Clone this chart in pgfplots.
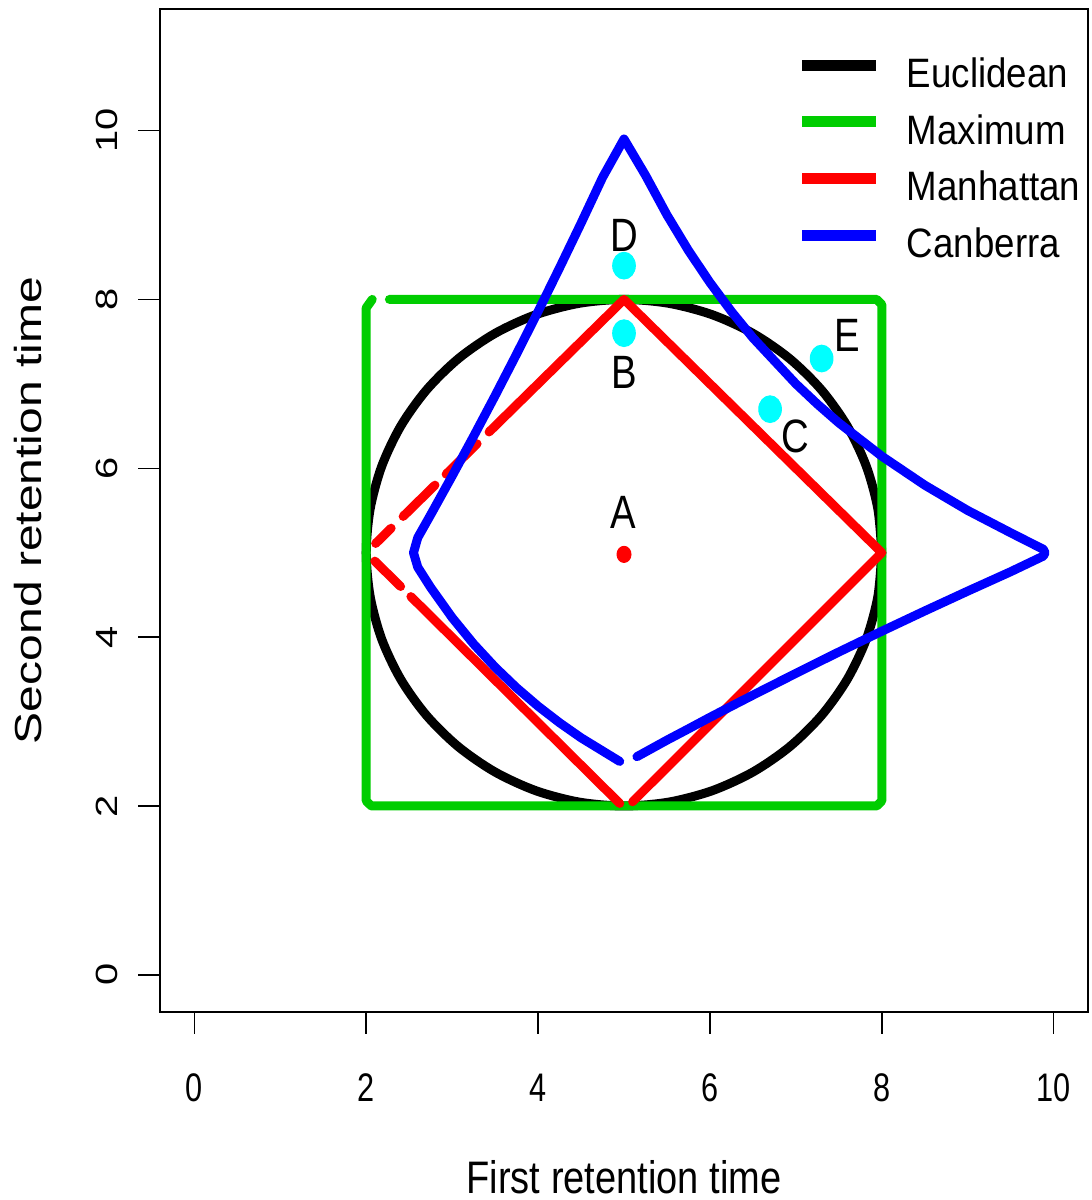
\documentclass[border=0pt]{standalone}
\usepackage{pgfplots}
\pgfplotsset{compat=1.18}
\usepackage{fontspec}
\setmainfont{Liberation Sans}
\definecolor{rgreen}{HTML}{00CD00}
\definecolor{rcyan}{HTML}{00FFFF}
\begin{document}
\begin{tikzpicture}
\begin{axis}[
  scale only axis,
  width=278.4pt, height=300.9pt,
  xmin=-0.4, xmax=10.4, ymin=-0.44, ymax=11.44,
  axis line style={line width=0.45pt},
  xtick={0,2,4,6,8,10}, ytick={0,2,4,6,8,10},
  tick align=outside, major tick length=6.5pt, tick pos=left,
  tick style={line width=0.45pt, black},
  xticklabel={\scalebox{1}[1.3]{\pgfmathprintnumber[assume math mode=true]{\tick}}},
  yticklabel={\scalebox{1.3}[1]{\pgfmathprintnumber[assume math mode=true]{\tick}}},
  xticklabel style={font=\fontsize{9.2}{11}\selectfont, anchor=center, yshift=-16.15pt},
  yticklabel style={font=\fontsize{9.2}{11}\selectfont, xshift=-9.5pt, rotate=90, anchor=center},
  xlabel={\scalebox{1}[1.2]{First retention time}},
  ylabel={\scalebox{1.275}[1]{Second retention time}},
  xlabel style={font=\fontsize{11.4}{13}\selectfont, at={(axis description cs:0.5,-0.1645)}, anchor=center},
  ylabel style={font=\fontsize{11.3}{13}\selectfont, at={(axis description cs:-0.1417,0.5)}, anchor=center},
  legend style={draw=none, fill=none, at={(axis description cs:0.6864,0.9514)}, anchor=north west,
    inner sep=0pt, outer sep=0pt, row sep=6.6pt, column sep=7.5pt,
    nodes={inner sep=0pt, outer sep=0pt}, font=\fontsize{11}{13}\selectfont},
  legend cell align=left,
  legend image code/.code={\draw[#1, line width=3.3pt, line cap=butt] (0pt,3.0pt) -- (22.2pt,3.0pt);},
  every axis plot/.append style={line width=2.7pt, line cap=round, line join=round},
]
% Euclidean circle
\addplot[black, smooth, forget plot] coordinates {
(8,5) (7.954,5.521) (7.819,6.026) (7.598,6.5) (7.298,6.928) (6.928,7.298) (6.5,7.598) (6.026,7.819) (5.521,7.954)
(5,8) (4.479,7.954) (3.974,7.819) (3.5,7.598) (3.072,7.298) (2.702,6.928) (2.402,6.5) (2.181,6.026) (2.046,5.521)
(2,5) (2.046,4.479) (2.181,3.974) (2.402,3.5) (2.702,3.072) (3.072,2.702) (3.5,2.402) (3.974,2.181) (4.479,2.046)
(5,2) (5.521,2.046) (6.026,2.181) (6.5,2.402) (6.928,2.702) (7.298,3.072) (7.598,3.5) (7.819,3.974) (7.954,4.479) (8,5)};
% Maximum square
\addplot[rgreen, forget plot] coordinates {
(2.27,8) (7.94,8) (8,7.94) (8,2.06) (7.94,2) (2.06,2) (2,2.06) (2,7.90) (2.07,8.0)};
% Manhattan diamond
\addplot[red, forget plot] coordinates {(2.11,5.11) (2.29,5.29)};
\addplot[red, forget plot] coordinates {(2.43,5.43) (2.80,5.80)};
\addplot[red, forget plot] coordinates {(2.93,5.93) (3.29,6.29)};
\addplot[red, forget plot] coordinates {(3.43,6.43) (5,8) (8,5) (5.1,2.05)};
\addplot[red, forget plot] coordinates {(2.10,4.90) (2.40,4.60)};
\addplot[red, forget plot] coordinates {(2.52,4.48) (4.95,2.03)};
% Canberra
\addplot[blue, forget plot] coordinates {
(5.15,2.584) (5.25,2.64) (5.5,2.78) (5.75,2.914) (6,3.05) (6.25,3.182) (6.5,3.313) (7,3.571) (7.25,3.698) (7.5,3.824) (8,4.07) (8.5,4.31)
(9,4.545) (9.5,4.775) (9.88,4.96) (9.9,5.0) (9.88,5.04) (9.5,5.236) (9,5.5) (8.5,5.8) (8,6.143) (7.5,6.538) (7.25,6.76) (7,7.0)
(6.5,7.545) (6.25,7.857) (6,8.2) (5.75,8.579) (5.5,9.0) (5.25,9.47) (5,9.9)
(4.75,9.444) (4.5,8.902) (4.25,8.374) (4,7.857) (3.75,7.353) (3.5,6.86) (3.25,6.379) (3,5.909) (2.75,5.449) (2.6,5.179)
(2.55,5.0) (2.6,4.828) (2.75,4.588) (3,4.231) (3.25,3.919) (3.5,3.644) (3.75,3.4) (4,3.182) (4.25,2.986) (4.5,2.808) (4.95,2.528)};
% points
\addplot[only marks, mark=*, mark size=3.4pt, draw=rcyan, fill=rcyan, mark options={yscale=1.18, draw=rcyan, fill=rcyan, line width=0.3pt}, forget plot]
  coordinates {(5,8.4) (5,7.6) (6.7,6.7) (7.3,7.3)};
\addplot[only marks, mark=*, mark size=2.1pt, red, mark options={yscale=1.15, line width=0.3pt}, forget plot] coordinates {(5,4.98)};
\node[font=\fontsize{11.5}{13}\selectfont] at (axis cs:4.99,5.48) {\scalebox{1}[1.22]{A}};
\node[font=\fontsize{11.5}{13}\selectfont] at (axis cs:5,7.14) {\scalebox{1}[1.22]{B}};
\node[font=\fontsize{11.5}{13}\selectfont] at (axis cs:6.99,6.38) {\scalebox{1}[1.22]{C}};
\node[font=\fontsize{11.5}{13}\selectfont] at (axis cs:5,8.76) {\scalebox{1}[1.22]{D}};
\node[font=\fontsize{11.5}{13}\selectfont] at (axis cs:7.6,7.57) {\scalebox{1}[1.22]{E}};
% legend
\addlegendimage{black}
\addlegendentry{\scalebox{1}[1.12]{Euclidean}}
\addlegendimage{rgreen}
\addlegendentry{\scalebox{1}[1.12]{Maximum}}
\addlegendimage{red}
\addlegendentry{\scalebox{1}[1.12]{Manhattan}}
\addlegendimage{blue}
\addlegendentry{\scalebox{1}[1.12]{Canberra}}
\coordinate (sw) at (rel axis cs:0,0);
\coordinate (ne) at (rel axis cs:1,1);
\end{axis}
\pgfresetboundingbox
\path[use as bounding box] ([xshift=-48pt,yshift=-56.4pt]sw) rectangle ([xshift=0.9pt,yshift=2.7pt]ne);
\end{tikzpicture}
\end{document}
